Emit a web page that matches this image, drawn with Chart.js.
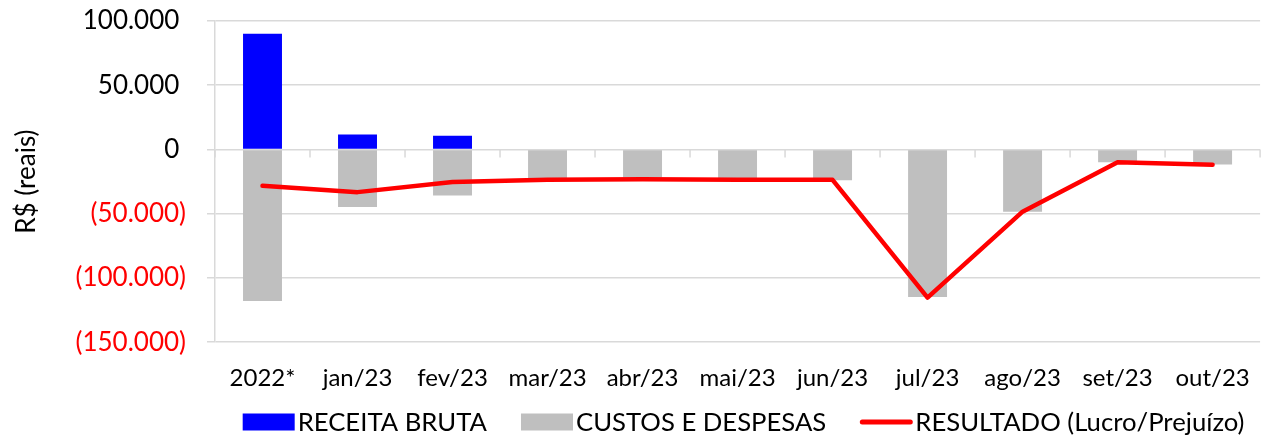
<!DOCTYPE html>
<html>
<head>
<meta charset="utf-8">
<script src="https://cdn.jsdelivr.net/npm/chart.js@4.4.1/dist/chart.umd.min.js"></script>
<style>
html,body{margin:0;padding:0;background:#fff;}
#wrap{width:1272px;height:438px;}
</style>
</head>
<body>
<div id="wrap"><canvas id="c" width="1272" height="438"></canvas></div>
<script>
const categories = ['2022*','jan/23','fev/23','mar/23','abr/23','mai/23','jun/23','jul/23','ago/23','set/23','out/23'];
const receitaBruta = [90000, 11700, 10700, 0, 0, 0, 0, 0, 0, 0, 0];
const custosDespesas = [-118000, -44800, -35900, -22500, -21800, -22300, -24000, -114800, -48400, -9900, -11700];
const resultado = [-28300, -33200, -25300, -23500, -23200, -23600, -23600, -115300, -48400, -9900, -11800];
const yTicks = [100000, 50000, 0, -50000, -100000, -150000];

const FONT = 'Lato, "Open Sans", sans-serif';

function fmt(v){
  const s = Math.abs(v).toString().replace(/\B(?=(\d{3})+(?!\d))/g, '.');
  return v < 0 ? '(' + s + ')' : s + ' ';
}

const zeroTicks = {
  id: 'zeroTicks',
  beforeDatasetsDraw(chart){
    const xs = chart.scales.x, ys = chart.scales.y, ctx = chart.ctx;
    const y0 = ys.getPixelForValue(0);
    const n = categories.length;
    const pos = [chart.chartArea.left];
    for (let i = 1; i < n; i++) pos.push((xs.getPixelForValue(i-1) + xs.getPixelForValue(i)) / 2);
    pos.push(chart.chartArea.right);
    ctx.save();
    ctx.strokeStyle = '#d9d9d9';
    ctx.lineWidth = 1.5;
    ctx.beginPath();
    pos.forEach(px => { ctx.moveTo(px, y0); ctx.lineTo(px, y0 + 8); });
    ctx.stroke();
    ctx.restore();
  }
};

const customLegend = {
  id: 'customLegend',
  afterDraw(chart){
    const ctx = chart.ctx;
    const cy = 422;
    ctx.save();
    ctx.font = '25.7px ' + FONT;
    ctx.textBaseline = 'middle';
    const boxW = 52, boxH = 17, gap = 3, itemGap = 34;
    const items = chart.data.datasets.map(ds => ({
      text: ds.label, isLine: ds.type === 'line',
      color: ds.type === 'line' ? ds.borderColor : ds.backgroundColor,
      tw: ctx.measureText(ds.label).width
    }));
    let total = 0;
    items.forEach((it, i) => { total += boxW + gap + it.tw + (i ? itemGap : 0); });
    let x = (chart.chartArea.left + chart.chartArea.right) / 2 - total / 2 + 6;
    items.forEach(it => {
      if (it.isLine) {
        ctx.strokeStyle = it.color; ctx.lineWidth = 5; ctx.lineCap = 'round';
        ctx.beginPath(); ctx.moveTo(x + 2, cy); ctx.lineTo(x + boxW - 2, cy); ctx.stroke();
      } else {
        ctx.fillStyle = it.color;
        ctx.fillRect(x, cy - boxH / 2, boxW, boxH);
      }
      x += boxW + gap;
      ctx.fillStyle = '#000';
      ctx.fillText(it.text, x, cy + 1);
      x += it.tw + itemGap;
    });
    ctx.restore();
  }
};

function draw(){
  new Chart(document.getElementById('c'), {
    data: {
      labels: categories,
      datasets: [
        { type: 'bar', label: 'RECEITA BRUTA', data: receitaBruta, backgroundColor: '#0000ff', borderWidth: 0, barPercentage: 0.41, categoryPercentage: 1 },
        { type: 'bar', label: 'CUSTOS E DESPESAS', data: custosDespesas, backgroundColor: '#bfbfbf', borderWidth: 0, barPercentage: 0.41, categoryPercentage: 1 },
        { type: 'line', label: 'RESULTADO (Lucro/Prejuízo)', data: resultado, borderColor: '#ff0000', backgroundColor: '#ff0000', borderWidth: 4.5, pointRadius: 0, tension: 0, borderCapStyle: 'round', borderJoinStyle: 'round', order: -1 }
      ]
    },
    options: {
      responsive: false,
      animation: false,
      layout: { padding: { top: 21, right: 6, bottom: 23, left: 0 } },
      plugins: { legend: { display: false }, tooltip: { enabled: false } },
      scales: {
        x: {
          stacked: true,
          grid: { display: false, drawTicks: false },
          border: { display: false },
          ticks: { color: '#000', font: { family: FONT, size: 24 }, padding: 22, maxRotation: 0, autoSkip: false }
        },
        y: {
          min: -150000, max: 100000,
          afterFit(s){ s.width = 215; s.paddingTop = 0; s.paddingBottom = 0; },
          afterBuildTicks(s){ s.ticks = yTicks.map(v => ({ value: v })); },
          grid: { color: '#d9d9d9', lineWidth: 1.5, tickLength: 8, drawTicks: true },
          border: { display: true, color: '#d9d9d9', width: 1.5 },
          ticks: {
            font: { family: FONT, size: 26 },
            padding: 21,
            color: c => (c.tick && c.tick.value < 0) ? '#ff0000' : '#000',
            callback: v => fmt(v)
          },
          title: { display: true, text: 'R$ (reais)', color: '#000', font: { family: FONT, size: 26 }, padding: { top: 11, bottom: 0 } }
        }
      }
    },
    plugins: [zeroTicks, customLegend]
  });
}

if (document.fonts && document.fonts.load) {
  Promise.all([document.fonts.load('24px Lato'), document.fonts.load('26px Lato')]).then(draw, draw);
} else { draw(); }
</script>
</body>
</html>
